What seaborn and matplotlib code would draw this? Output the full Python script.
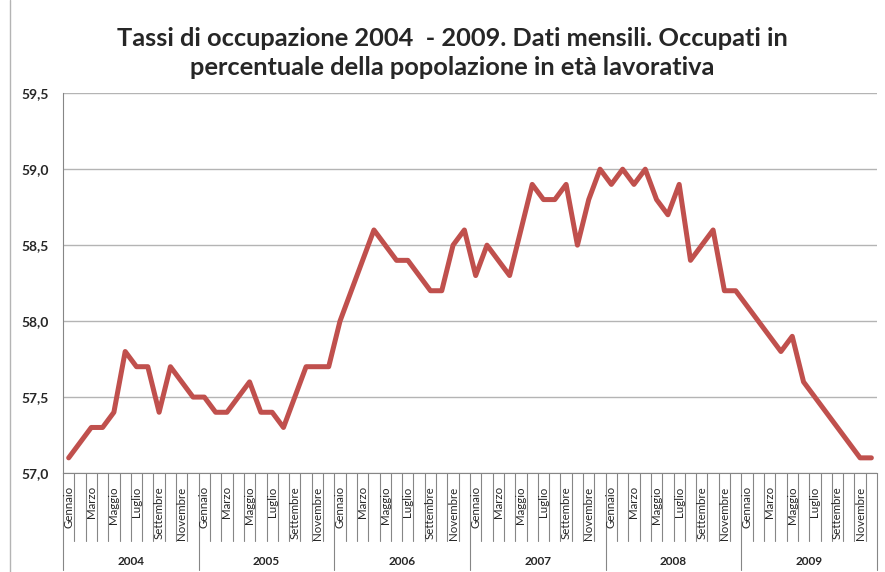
import matplotlib
matplotlib.use("Agg")
import matplotlib.pyplot as plt
import matplotlib.transforms as mtransforms
from matplotlib.lines import Line2D
import pandas as pd
import seaborn as sns

# =========================================
# Data
# =========================================
years = ["2004", "2005", "2006", "2007", "2008", "2009"]
months = ["Gennaio", "Febbraio", "Marzo", "Aprile", "Maggio", "Giugno",
          "Luglio", "Agosto", "Settembre", "Ottobre", "Novembre", "Dicembre"]

rate_2004 = [57.1, 57.2, 57.3, 57.3, 57.4, 57.8, 57.7, 57.7, 57.4, 57.7, 57.6, 57.5]
rate_2005 = [57.5, 57.4, 57.4, 57.5, 57.6, 57.4, 57.4, 57.3, 57.5, 57.7, 57.7, 57.7]
rate_2006 = [58.0, 58.2, 58.4, 58.6, 58.5, 58.4, 58.4, 58.3, 58.2, 58.2, 58.5, 58.6]
rate_2007 = [58.3, 58.5, 58.4, 58.3, 58.6, 58.9, 58.8, 58.8, 58.9, 58.5, 58.8, 59.0]
rate_2008 = [58.9, 59.0, 58.9, 59.0, 58.8, 58.7, 58.9, 58.4, 58.5, 58.6, 58.2, 58.2]
rate_2009 = [58.1, 58.0, 57.9, 57.8, 57.9, 57.6, 57.5, 57.4, 57.3, 57.2, 57.1, 57.1]

yticks = [57.0, 57.5, 58.0, 58.5, 59.0, 59.5]
ytick_labels = ["57,0", "57,5", "58,0", "58,5", "59,0", "59,5"]

all_rates = rate_2004 + rate_2005 + rate_2006 + rate_2007 + rate_2008 + rate_2009
df = pd.DataFrame({
    "idx": range(len(all_rates)),
    "anno": [y for y in years for _ in months],
    "mese": months * len(years),
    "tasso": all_rates,
})

# =========================================
# Plot
# =========================================
sns.set_style("white")
plt.rcParams["font.family"] = ["Lato", "DejaVu Sans"]

fig = plt.figure(figsize=(8.85, 5.72), dpi=100)
ax = fig.add_axes([0.0712, 0.173, 0.9198, 0.664])

sns.lineplot(data=df, x="idx", y="tasso", ax=ax, color="#C0504D",
             linewidth=3.6, solid_joinstyle="round", solid_capstyle="round")

n = len(df)
ax.set_xlim(-0.5, n - 0.5)
ax.set_ylim(57.0, 59.5)
ax.set_yticks(yticks)
ax.set_yticklabels(ytick_labels, fontweight="bold", fontsize=10)
ax.yaxis.grid(True, color="#b4b4b4", linewidth=1)
ax.set_xlabel("")
ax.set_ylabel("")
ax.set_xticks([])
ax.tick_params(axis="y", length=5, color="#868686", pad=5)

for side in ["top", "right"]:
    ax.spines[side].set_visible(False)
for side in ["left", "bottom"]:
    ax.spines[side].set_color("#868686")

# multi-level category axis (months / years)
trans = mtransforms.blended_transform_factory(ax.transData, ax.transAxes)
for i, row in df.iterrows():
    depth = -0.255 if i % 12 == 0 else -0.179
    ax.add_line(Line2D([i - 0.5, i - 0.5], [0, depth], transform=trans,
                       color="#868686", lw=0.8, clip_on=False))
    if i % 2 == 0:
        ax.text(i, -0.035, row["mese"], transform=trans, rotation=90,
                ha="center", va="top", fontsize=8.3)
ax.add_line(Line2D([n - 0.5, n - 0.5], [0, -0.255], transform=trans,
                   color="#868686", lw=0.8, clip_on=False))

for k, y in enumerate(years):
    ax.text(k * 12 + 5.5, -0.232, y, transform=trans, ha="center", va="center",
            fontsize=8.5, fontweight="bold")

fig.add_artist(Line2D([0.011, 0.011], [0, 1], transform=fig.transFigure,
                      color="#b4b4b4", lw=1))

fig.text(0.511, 0.907,
         "Tassi di occupazione 2004  - 2009. Dati mensili. Occupati in\n"
         "percentuale della popolazione in età lavorativa",
         ha="center", va="center", fontsize=18.3, fontweight="bold",
         linespacing=1.33)

fig.savefig("out.png", dpi=100)
